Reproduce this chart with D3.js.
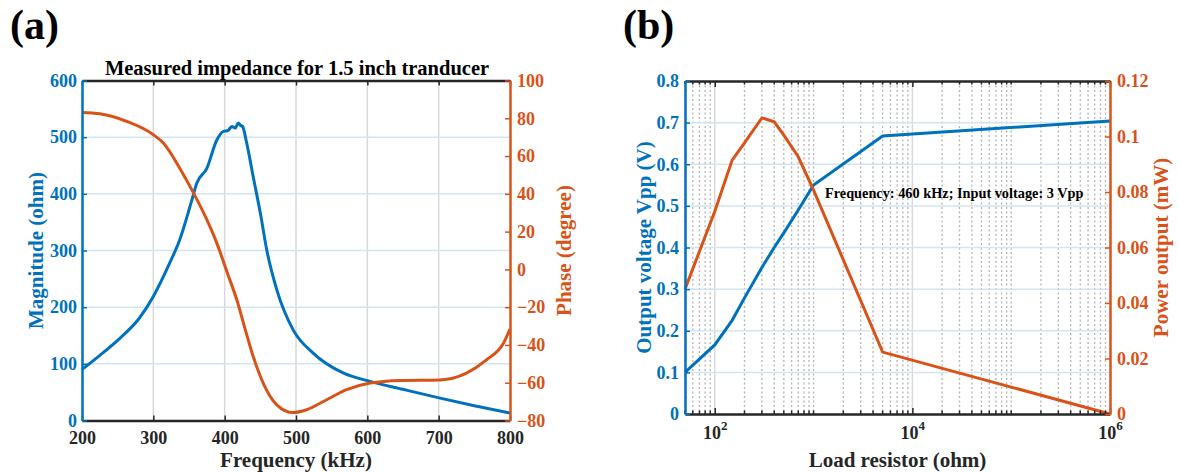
<!DOCTYPE html>
<html>
<head>
<meta charset="utf-8">
<script src="https://cdn.jsdelivr.net/npm/d3@7"></script>
<style>
body { margin: 0; background: #fff; }
</style>
</head>
<body>
<div id="chart"></div>
<script>
// (a) measured impedance
const mag_freq = [200, 225, 253, 280, 300, 323, 337, 354, 361, 375, 389, 398, 405, 410, 415, 419, 422, 425, 431, 440, 450, 459, 473, 496, 524, 566, 604, 650, 702, 750, 800];
const magnitude = [90, 115, 145, 180, 219, 278, 319, 389, 419, 445, 495, 510, 512, 519, 516, 525, 521, 519, 489, 430, 366, 301, 231, 160, 119, 84, 69, 55, 39.5, 26, 13];
const phase_freq = [200, 225, 263, 300, 314, 337, 354, 375, 389, 403, 417, 429, 440, 454, 473, 496, 515, 543, 571, 604, 646, 702, 739, 767, 791, 800];
const phase = [83.1, 82.4, 78.3, 71.3, 66.9, 53.6, 42.1, 26.3, 13.9, -1.1, -16.1, -32, -46.1, -60.2, -71.7, -75.8, -74.3, -69, -63.7, -60.2, -58.8, -58.5, -54.9, -47.9, -39, -31.6];
const freq_ticks = [200, 300, 400, 500, 600, 700, 800];
const mag_ticks = [0, 100, 200, 300, 400, 500, 600];
const phase_ticks = [-80, -60, -40, -20, 0, 20, 40, 60, 80, 100];

// (b) load sweep
const load_ohm = [50, 100, 150, 200, 300, 400, 500, 700, 1000, 5000, 1e6];
const vout_vpp = [0.1, 0.166, 0.225, 0.279, 0.352, 0.4, 0.435, 0.49, 0.55, 0.668, 0.704];
const power_mW = [0.045, 0.073, 0.0915, 0.0977, 0.1067, 0.1053, 0.1005, 0.0927, 0.0807, 0.0223, 0];
const load_ticks = [1e2, 1e4, 1e6];
const vout_ticks = [0, 0.1, 0.2, 0.3, 0.4, 0.5, 0.6, 0.7, 0.8];
const power_ticks = [0, 0.02, 0.04, 0.06, 0.08, 0.1, 0.12];

const FONT = '"Liberation Serif", "Times New Roman", serif';
const BLUE = '#0072BD';
const ORANGE = '#D95319';
const DARK = '#262626';
const GRID_GRAY = '#d9d9d9';
const GRID_BLUE = '#d3e5f3';

const svg = d3.select('#chart')
    .append('svg')
    .attr('width', 1179)
    .attr('height', 472)
    .attr('font-family', FONT)
    .attr('font-weight', 'bold');

function styleAxis(g, color, tickColor)
{
    g.attr('font-family', FONT).attr('font-size', 18).attr('font-weight', 'bold');
    g.select('.domain').attr('stroke', color).attr('stroke-width', 2.5);
    g.selectAll('.tick line').attr('stroke', tickColor || color).attr('stroke-width', 1.5);
    g.selectAll('.tick text').attr('fill', color);
}

// ---------- panel (a) ----------
const A = {left: 82, right: 510, top: 80.5, bottom: 420.5};
const xA = d3.scaleLinear().domain([200, 800]).range([A.left, A.right]);
const yAm = d3.scaleLinear().domain([0, 600]).range([A.bottom, A.top]);
const yAp = d3.scaleLinear().domain([-80, 100]).range([A.bottom, A.top]);

const gA = svg.append('g');

// grid
gA.append('g')
    .selectAll('line')
    .data(freq_ticks.slice(1, -1))
    .join('line')
    .attr('x1', d => xA(d)).attr('x2', d => xA(d))
    .attr('y1', A.top).attr('y2', A.bottom)
    .attr('stroke', GRID_GRAY).attr('stroke-width', 1.5);
gA.append('g')
    .selectAll('line')
    .data(mag_ticks.slice(1, -1))
    .join('line')
    .attr('x1', A.left).attr('x2', A.right)
    .attr('y1', d => yAm(d)).attr('y2', d => yAm(d))
    .attr('stroke', GRID_BLUE).attr('stroke-width', 1.5);

// curves
gA.append('path')
    .datum(mag_freq.map((f, i) => [f, magnitude[i]]))
    .attr('d', d3.line().x(d => xA(d[0])).y(d => yAm(d[1])).curve(d3.curveMonotoneX))
    .attr('fill', 'none').attr('stroke', BLUE).attr('stroke-width', 3);
gA.append('path')
    .datum(phase_freq.map((f, i) => [f, phase[i]]))
    .attr('d', d3.line().x(d => xA(d[0])).y(d => yAp(d[1])).curve(d3.curveMonotoneX))
    .attr('fill', 'none').attr('stroke', ORANGE).attr('stroke-width', 3);

// axes
gA.append('g')
    .attr('transform', `translate(0,${A.top})`)
    .call(d3.axisTop(xA).tickValues(freq_ticks).tickSizeInner(-5).tickSizeOuter(0).tickFormat(''))
    .call(g => styleAxis(g, DARK));
gA.append('g')
    .attr('transform', `translate(0,${A.bottom})`)
    .call(d3.axisBottom(xA).tickValues(freq_ticks).tickSizeInner(-5).tickSizeOuter(0).tickPadding(11))
    .call(g => styleAxis(g, DARK));
gA.append('g')
    .attr('transform', `translate(${A.left},0)`)
    .call(d3.axisLeft(yAm).tickValues(mag_ticks).tickSizeInner(-5).tickSizeOuter(0).tickPadding(5))
    .call(g => styleAxis(g, BLUE));
gA.append('g')
    .attr('transform', `translate(${A.right},0)`)
    .call(d3.axisRight(yAp).tickValues(phase_ticks).tickSizeInner(-5).tickSizeOuter(0).tickPadding(7))
    .call(g => styleAxis(g, ORANGE));

// texts
gA.append('text')
    .text('Measured impedance for 1.5 inch tranducer')
    .attr('x', (A.left + A.right) / 2 + 1).attr('y', 75)
    .attr('text-anchor', 'middle').attr('font-size', 20.5).attr('fill', '#000');
gA.append('text')
    .text('Frequency (kHz)')
    .attr('x', (A.left + A.right) / 2).attr('y', 467)
    .attr('text-anchor', 'middle').attr('font-size', 21).attr('fill', DARK);
gA.append('text')
    .text('Magnitude (ohm)')
    .attr('transform', `translate(43,${(A.top + A.bottom) / 2}) rotate(-90)`)
    .attr('text-anchor', 'middle').attr('font-size', 21).attr('fill', BLUE);
gA.append('text')
    .text('Phase (degree)')
    .attr('transform', `translate(571,${(A.top + A.bottom) / 2}) rotate(-90)`)
    .attr('text-anchor', 'middle').attr('font-size', 21).attr('fill', ORANGE);
gA.append('text')
    .text('(a)')
    .attr('x', 10).attr('y', 39)
    .attr('font-size', 42).attr('fill', '#000');

// ---------- panel (b) ----------
const B = {left: 685, right: 1110, top: 81, bottom: 414};
const xB = d3.scaleLog().domain([50, 1e6]).range([B.left, B.right]);
const yBv = d3.scaleLinear().domain([0, 0.8]).range([B.bottom, B.top]);
const yBp = d3.scaleLinear().domain([0, 0.12]).range([B.bottom, B.top]);

// minor positions of the log axis
const minor = [];
for (let e = 1; e <= 5; e++) {
    for (let k = 1; k <= 9; k++) {
        const v = k * Math.pow(10, e);
        if (v >= 50 && v <= 1e6 && load_ticks.indexOf(v) < 0) minor.push(v);
    }
}

const gB = svg.append('g');

gB.append('g')
    .selectAll('line')
    .data(minor)
    .join('line')
    .attr('x1', d => xB(d)).attr('x2', d => xB(d))
    .attr('y1', B.top).attr('y2', B.bottom)
    .attr('stroke', '#b5b5b5').attr('stroke-width', 1.3)
    .attr('stroke-dasharray', '2,2.5');
gB.append('g')
    .selectAll('line')
    .data(load_ticks.slice(0, -1))
    .join('line')
    .attr('x1', d => xB(d)).attr('x2', d => xB(d))
    .attr('y1', B.top).attr('y2', B.bottom)
    .attr('stroke', GRID_GRAY).attr('stroke-width', 1.5);
gB.append('g')
    .selectAll('line')
    .data(vout_ticks.slice(1, -1))
    .join('line')
    .attr('x1', B.left).attr('x2', B.right)
    .attr('y1', d => yBv(d)).attr('y2', d => yBv(d))
    .attr('stroke', GRID_BLUE).attr('stroke-width', 1.5);

gB.append('path')
    .datum(load_ohm.map((r, i) => [r, vout_vpp[i]]))
    .attr('d', d3.line().x(d => xB(d[0])).y(d => yBv(d[1])))
    .attr('fill', 'none').attr('stroke', BLUE).attr('stroke-width', 3);
gB.append('path')
    .datum(load_ohm.map((r, i) => [r, power_mW[i]]))
    .attr('d', d3.line().x(d => xB(d[0])).y(d => yBp(d[1])))
    .attr('fill', 'none').attr('stroke', ORANGE).attr('stroke-width', 3);

// minor ticks top and bottom
[B.top, B.bottom].forEach(y0 => {
    const dir = (y0 === B.top) ? 1 : -1;
    gB.append('g')
        .selectAll('line')
        .data(minor)
        .join('line')
        .attr('x1', d => xB(d)).attr('x2', d => xB(d))
        .attr('y1', y0).attr('y2', y0 + dir * 3.5)
        .attr('stroke', DARK).attr('stroke-width', 1.5);
});

gB.append('g')
    .attr('transform', `translate(0,${B.top})`)
    .call(d3.axisTop(xB).tickValues(load_ticks).tickSizeInner(-6).tickSizeOuter(0).tickFormat(''))
    .call(g => styleAxis(g, DARK));
gB.append('g')
    .attr('transform', `translate(0,${B.bottom})`)
    .call(d3.axisBottom(xB).tickValues(load_ticks).tickSizeInner(-6).tickSizeOuter(0).tickPadding(12).tickFormat(''))
    .call(g => styleAxis(g, DARK))
    .call(g => g.selectAll('.tick text').each(function(d) {
        const t = d3.select(this);
        t.append('tspan').text('10');
        t.append('tspan').text(Math.round(Math.log10(d))).attr('font-size', 13).attr('dy', '-0.7em');
    }));
gB.append('g')
    .attr('transform', `translate(${B.left},0)`)
    .call(d3.axisLeft(yBv).tickValues(vout_ticks).tickSizeInner(-5).tickSizeOuter(0).tickPadding(6).tickFormat(d3.format('~g')))
    .call(g => styleAxis(g, BLUE));
gB.append('g')
    .attr('transform', `translate(${B.right},0)`)
    .call(d3.axisRight(yBp).tickValues(power_ticks).tickSizeInner(-5).tickSizeOuter(0).tickPadding(7).tickFormat(d3.format('~g')))
    .call(g => styleAxis(g, ORANGE));

gB.append('text')
    .text('Frequency: 460 kHz; Input voltage: 3 Vpp')
    .attr('x', 825).attr('y', 198)
    .attr('font-size', 14.3).attr('fill', '#000');
gB.append('text')
    .text('Load resistor (ohm)')
    .attr('x', (B.left + B.right) / 2).attr('y', 467)
    .attr('text-anchor', 'middle').attr('font-size', 21).attr('fill', DARK);
gB.append('text')
    .text('Output voltage Vpp (V)')
    .attr('transform', `translate(651,${(B.top + B.bottom) / 2}) rotate(-90)`)
    .attr('text-anchor', 'middle').attr('font-size', 21).attr('fill', BLUE);
gB.append('text')
    .text('Power output (mW)')
    .attr('transform', `translate(1168,${(B.top + B.bottom) / 2}) rotate(-90)`)
    .attr('text-anchor', 'middle').attr('font-size', 21).attr('fill', ORANGE);
gB.append('text')
    .text('(b)')
    .attr('x', 623).attr('y', 39)
    .attr('font-size', 42).attr('fill', '#000');
</script>
</body>
</html>
